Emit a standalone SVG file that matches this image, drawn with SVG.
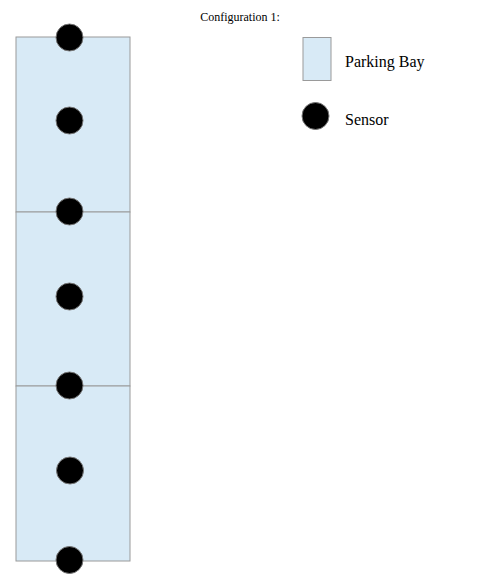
<svg xmlns="http://www.w3.org/2000/svg" width="479" height="582" viewBox="0 0 479 582">
<style>
.bay{fill:#d8eaf6;stroke:#9a9a9a;stroke-width:1}
.sensor{fill:#000;stroke:#777;stroke-width:1}
.lbl{font-family:"Liberation Serif",serif;font-size:16px;fill:#000}
.title{font-family:"Liberation Serif",serif;font-size:12px;fill:#000}
</style>
<rect width="479" height="582" fill="#fff"/>
<text class="title" x="240" y="21" text-anchor="middle">Configuration 1:</text>
<g id="bay1"><rect class="bay" x="16" y="37" width="114" height="175"/></g>
<g id="bay2"><rect class="bay" x="16" y="212" width="114" height="174"/></g>
<g id="bay3"><rect class="bay" x="16" y="386" width="114" height="175"/></g>
<g id="connectors"></g>
<g id="s1"><circle class="sensor" cx="69.5" cy="37.5" r="13.5"/></g>
<g id="s2"><circle class="sensor" cx="69.5" cy="120.5" r="13.5"/></g>
<g id="s3"><circle class="sensor" cx="69.5" cy="211.5" r="13.5"/></g>
<g id="s4"><circle class="sensor" cx="69.5" cy="296.5" r="13.5"/></g>
<g id="s5"><circle class="sensor" cx="69.5" cy="385.5" r="13.5"/></g>
<g id="s6"><circle class="sensor" cx="70" cy="470.5" r="13.5"/></g>
<g id="s7"><circle class="sensor" cx="69.5" cy="560" r="13.5"/></g>
<g id="legend-bay"><rect class="bay" x="303" y="37.5" width="28" height="43"/><text class="lbl" x="345" y="67">Parking Bay</text></g>
<g id="legend-sensor"><circle class="sensor" cx="315.5" cy="116" r="13.5"/><text class="lbl" x="345" y="125">Sensor</text></g>
</svg>
